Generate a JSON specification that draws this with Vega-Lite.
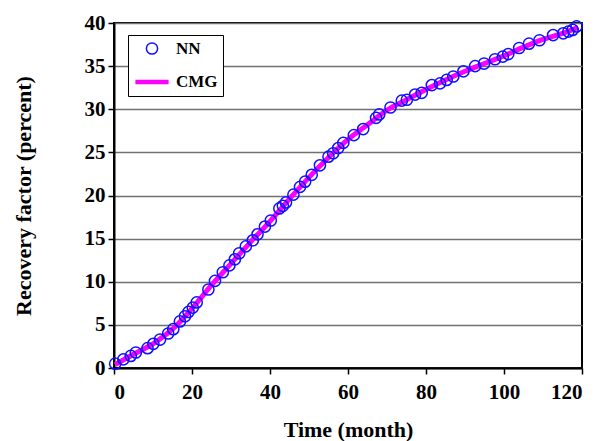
{
  "$schema": "https://vega.github.io/schema/vega-lite/v6.json",
  "width": 468,
  "height": 345,
  "autosize": {"type": "none"},
  "padding": {"left": 114, "top": 23, "right": 27, "bottom": 73},
  "background": "white",
  "config": {
    "view": {"stroke": "black", "strokeWidth": 2},
    "font": "Liberation Serif",
    "axis": {
      "labelFont": "Liberation Serif",
      "labelFontWeight": "bold",
      "labelFontSize": 21,
      "labelColor": "black",
      "titleFont": "Liberation Serif",
      "titleFontWeight": "bold",
      "titleFontSize": 22,
      "titleColor": "black",
      "domainColor": "black",
      "domainWidth": 2,
      "tickColor": "black",
      "tickWidth": 1.5,
      "tickSize": 6
    },
    "legend": {
      "labelFont": "Liberation Serif",
      "labelFontWeight": "bold",
      "labelFontSize": 17,
      "labelColor": "black"
    }
  },
  "data": {
    "values": [
      {"month": 0.3, "value": 0.5, "series": "NN"},
      {"month": 2.4, "value": 1.0, "series": "NN"},
      {"month": 4.3, "value": 1.4, "series": "NN"},
      {"month": 5.6, "value": 1.8, "series": "NN"},
      {"month": 8.6, "value": 2.3, "series": "NN"},
      {"month": 10.1, "value": 2.8, "series": "NN"},
      {"month": 11.8, "value": 3.3, "series": "NN"},
      {"month": 13.9, "value": 4.0, "series": "NN"},
      {"month": 15.2, "value": 4.5, "series": "NN"},
      {"month": 16.9, "value": 5.4, "series": "NN"},
      {"month": 18.2, "value": 6.0, "series": "NN"},
      {"month": 19.1, "value": 6.5, "series": "NN"},
      {"month": 20.2, "value": 7.0, "series": "NN"},
      {"month": 21.2, "value": 7.6, "series": "NN"},
      {"month": 24.2, "value": 9.1, "series": "NN"},
      {"month": 25.9, "value": 10.1, "series": "NN"},
      {"month": 27.9, "value": 11.1, "series": "NN"},
      {"month": 29.6, "value": 11.9, "series": "NN"},
      {"month": 31.0, "value": 12.6, "series": "NN"},
      {"month": 32.1, "value": 13.3, "series": "NN"},
      {"month": 33.8, "value": 14.1, "series": "NN"},
      {"month": 35.6, "value": 14.8, "series": "NN"},
      {"month": 36.8, "value": 15.5, "series": "NN"},
      {"month": 38.7, "value": 16.4, "series": "NN"},
      {"month": 40.2, "value": 17.1, "series": "NN"},
      {"month": 42.4, "value": 18.5, "series": "NN"},
      {"month": 43.3, "value": 18.8, "series": "NN"},
      {"month": 44.1, "value": 19.2, "series": "NN"},
      {"month": 46.0, "value": 20.1, "series": "NN"},
      {"month": 47.7, "value": 21.0, "series": "NN"},
      {"month": 49.0, "value": 21.6, "series": "NN"},
      {"month": 50.7, "value": 22.4, "series": "NN"},
      {"month": 52.8, "value": 23.5, "series": "NN"},
      {"month": 55.0, "value": 24.5, "series": "NN"},
      {"month": 56.2, "value": 24.9, "series": "NN"},
      {"month": 57.5, "value": 25.5, "series": "NN"},
      {"month": 58.8, "value": 26.1, "series": "NN"},
      {"month": 61.5, "value": 27.0, "series": "NN"},
      {"month": 63.9, "value": 27.7, "series": "NN"},
      {"month": 67.2, "value": 29.0, "series": "NN"},
      {"month": 68.0, "value": 29.4, "series": "NN"},
      {"month": 70.9, "value": 30.2, "series": "NN"},
      {"month": 73.8, "value": 31.0, "series": "NN"},
      {"month": 75.1, "value": 31.1, "series": "NN"},
      {"month": 77.2, "value": 31.7, "series": "NN"},
      {"month": 78.9, "value": 31.9, "series": "NN"},
      {"month": 81.5, "value": 32.8, "series": "NN"},
      {"month": 83.6, "value": 33.0, "series": "NN"},
      {"month": 85.3, "value": 33.4, "series": "NN"},
      {"month": 87.0, "value": 33.8, "series": "NN"},
      {"month": 89.6, "value": 34.4, "series": "NN"},
      {"month": 92.6, "value": 35.0, "series": "NN"},
      {"month": 94.9, "value": 35.3, "series": "NN"},
      {"month": 97.7, "value": 35.8, "series": "NN"},
      {"month": 99.7, "value": 36.1, "series": "NN"},
      {"month": 101.1, "value": 36.4, "series": "NN"},
      {"month": 103.9, "value": 37.1, "series": "NN"},
      {"month": 106.4, "value": 37.6, "series": "NN"},
      {"month": 109.1, "value": 38.0, "series": "NN"},
      {"month": 112.6, "value": 38.6, "series": "NN"},
      {"month": 115.2, "value": 38.8, "series": "NN"},
      {"month": 116.5, "value": 39.0, "series": "NN"},
      {"month": 117.6, "value": 39.2, "series": "NN"},
      {"month": 118.6, "value": 39.6, "series": "NN"},
      {"month": 0.3, "value": 0.4, "series": "CMG"},
      {"month": 5, "value": 1.6, "series": "CMG"},
      {"month": 10, "value": 2.8, "series": "CMG"},
      {"month": 15, "value": 4.5, "series": "CMG"},
      {"month": 20, "value": 6.9, "series": "CMG"},
      {"month": 25, "value": 9.6, "series": "CMG"},
      {"month": 30, "value": 12.1, "series": "CMG"},
      {"month": 35, "value": 14.6, "series": "CMG"},
      {"month": 40, "value": 17.0, "series": "CMG"},
      {"month": 45, "value": 19.6, "series": "CMG"},
      {"month": 50, "value": 22.1, "series": "CMG"},
      {"month": 55, "value": 24.4, "series": "CMG"},
      {"month": 60, "value": 26.5, "series": "CMG"},
      {"month": 65, "value": 28.2, "series": "CMG"},
      {"month": 70, "value": 29.9, "series": "CMG"},
      {"month": 75, "value": 31.1, "series": "CMG"},
      {"month": 80, "value": 32.3, "series": "CMG"},
      {"month": 85, "value": 33.4, "series": "CMG"},
      {"month": 90, "value": 34.4, "series": "CMG"},
      {"month": 95, "value": 35.3, "series": "CMG"},
      {"month": 100, "value": 36.2, "series": "CMG"},
      {"month": 105, "value": 37.2, "series": "CMG"},
      {"month": 110, "value": 38.1, "series": "CMG"},
      {"month": 115, "value": 38.8, "series": "CMG"},
      {"month": 119, "value": 39.5, "series": "CMG"}
    ]
  },
  "encoding": {
    "x": {
      "field": "month",
      "type": "quantitative",
      "scale": {"domain": [0, 120], "nice": false},
      "axis": {"values": [0, 20, 40, 60, 80, 100, 120], "title": "Time (month)", "grid": false, "labelPadding": 7, "titlePadding": 17}
    },
    "y": {
      "field": "value",
      "type": "quantitative",
      "scale": {"domain": [0, 40], "nice": false},
      "axis": {"values": [0, 5, 10, 15, 20, 25, 30, 35, 40], "title": "Recovery factor (percent)", "grid": true, "gridColor": "#707070", "gridWidth": 1.5, "labelPadding": 3, "titlePadding": 49}
    }
  },
  "layer": [
    {
      "transform": [{"filter": "datum.series === 'CMG'"}],
      "mark": {"type": "line", "interpolate": "monotone", "strokeWidth": 5, "color": "#ff00ff"}
    },
    {
      "transform": [{"filter": "datum.series === 'NN'"}],
      "mark": {"type": "point", "filled": false, "strokeWidth": 1.5, "opacity": 1},
      "encoding": {
        "color": {
          "field": "series", "type": "nominal",
          "scale": {"domain": ["NN", "CMG"], "range": ["#1010ff", "#ff00ff"]},
          "legend": {
            "title": null, "orient": "none", "legendX": 14, "legendY": 12,
            "strokeColor": "black", "fillColor": "white", "padding": 5,
            "rowPadding": 5, "labelOffset": 5
          }
        },
        "shape": {
          "field": "series", "type": "nominal",
          "scale": {"domain": ["NN", "CMG"], "range": ["circle", "stroke"]}
        },
        "size": {
          "field": "series", "type": "nominal",
          "scale": {"domain": ["NN", "CMG"], "range": [125, 1100]}
        },
        "strokeWidth": {
          "field": "series", "type": "nominal",
          "scale": {"domain": ["NN", "CMG"], "range": [1.5, 4.5]}
        }
      }
    }
  ]
}
